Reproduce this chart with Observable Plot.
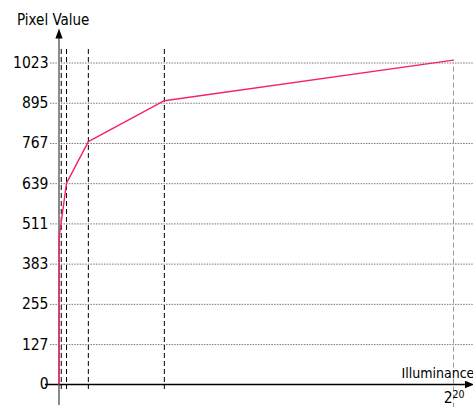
<!DOCTYPE html>
<html>
<head>
<meta charset="utf-8">
<script src="https://cdn.jsdelivr.net/npm/d3@7"></script>
<script src="https://cdn.jsdelivr.net/npm/@observablehq/plot@0.6"></script>
<style>
  html, body { margin: 0; padding: 0; background: #fff; }
  #chart svg { display: block; }
</style>
</head>
<body>
<div id="chart"></div>
<script>
// ---- data ----
const yTicks = [0, 127, 255, 383, 511, 639, 767, 895, 1023];
const gridTicks = [127, 255, 383, 511, 639, 767, 895, 1023];
const kneeX = [6000, 20000, 78000, 280000];
const maxX = 1048576; // 2^20
const curveX = [0, 500, 20000, 78000, 280000, 1048576];
const curveY = [0, 470, 641, 773, 903, 1032];
const yAxisExtent = [-67, 1115];     // extent of the drawn y axis line (value units)
const xAxisExtent = [-36000, 1080000]; // extent of the drawn x axis line (value units)
const yArrowAt = 1117;
const xArrowAt = 1091000;
const maxDashExtent = [-75, 1023];
const yTitle = "Pixel Value";
const xTitle = "Illuminance";

const curve = curveX.map((x, i) => ({x, y: curveY[i]}));
const font = "'DejaVu Sans Condensed', 'DejaVu Sans', sans-serif";

const upTri = {draw(ctx) { ctx.moveTo(0, -5); ctx.lineTo(3.6, 5); ctx.lineTo(-3.6, 5); ctx.closePath(); }};
const rightTri = {draw(ctx) { ctx.moveTo(4.5, 0); ctx.lineTo(-4.5, 3.8); ctx.lineTo(-4.5, -3.8); ctx.closePath(); }};

const chart = Plot.plot({
  width: 473,
  height: 407,
  marginLeft: 50,
  marginRight: 0,
  marginTop: 49,
  marginBottom: 18,
  style: {fontFamily: font, background: "#fff"},
  x: {domain: [0, maxX], range: [58.5, 453], axis: null},
  y: {domain: [0, 1023], range: [384, 62.5], axis: null},
  marks: [
    Plot.ruleY(gridTicks, {stroke: "#777", strokeWidth: 1, strokeDasharray: "1.5,1.2"}),
    Plot.ruleX(kneeX, {stroke: "#000", strokeWidth: 1, strokeDasharray: "5,3"}),
    Plot.ruleX([maxX], {y1: maxDashExtent[0], y2: maxDashExtent[1], stroke: "#999", strokeWidth: 1, strokeDasharray: "5,3"}),
    Plot.ruleX([0], {y1: yAxisExtent[0], y2: yAxisExtent[1], stroke: "#8a8a8a", strokeWidth: 2}),
    Plot.dot([0], {x: d => d, y: () => yArrowAt, symbol: upTri, fill: "#000", stroke: "none", r: 4}),
    Plot.ruleY([0], {x1: xAxisExtent[0], x2: xAxisExtent[1], stroke: "#000", strokeWidth: 1.5}),
    Plot.dot([0], {x: () => xArrowAt, y: d => d, symbol: rightTri, fill: "#000", stroke: "none", r: 4}),
    Plot.line(curve, {x: "x", y: "y", stroke: "#f5206e", strokeWidth: 1.4}),
    Plot.text(yTicks, {x: 0, y: d => d, text: d => String(d), textAnchor: "end", dx: -10.5, dy: 0, fontSize: 15.5, fill: "#000"}),
    Plot.text([yTitle], {x: 0, y: yArrowAt, text: d => d, textAnchor: "start", lineAnchor: "bottom", dx: -42, dy: -8, fontSize: 15, fill: "#000"}),
    Plot.text([xTitle], {x: maxX, y: 0, text: d => d, textAnchor: "start", lineAnchor: "bottom", dx: -52, dy: -7, fontSize: 14, fill: "#000"}),
    Plot.text([maxX], {x: d => d, y: 0, text: () => "2", textAnchor: "end", lineAnchor: "top", dx: -1, dy: 7, fontSize: 15.5, fill: "#000"}),
    Plot.text([maxX], {x: d => d, y: 0, text: () => "20", textAnchor: "start", lineAnchor: "top", dx: -1, dy: 6, fontSize: 10.5, fill: "#000"})
  ]
});
document.getElementById("chart").appendChild(chart);
</script>
</body>
</html>
